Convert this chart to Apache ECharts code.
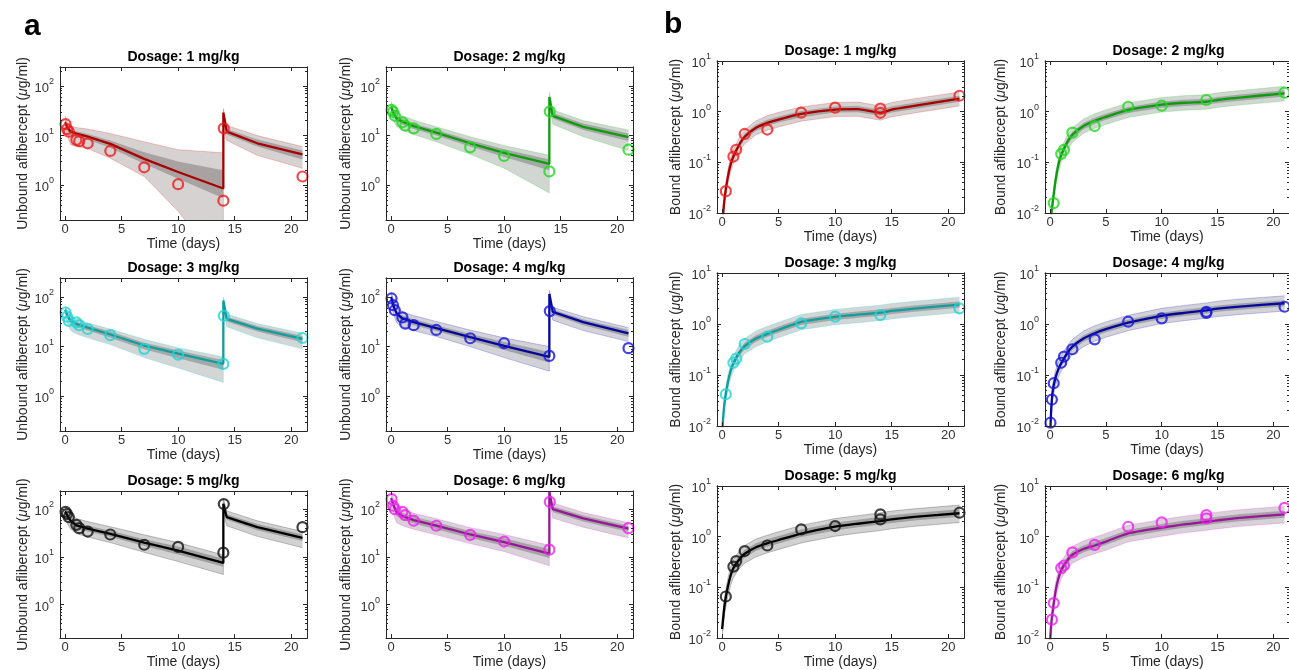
<!DOCTYPE html>
<html><head><meta charset="utf-8">
<script src="https://cdn.jsdelivr.net/npm/echarts@6/dist/echarts.min.js"></script>
<style>html,body{margin:0;padding:0;background:#fff}#c{width:1289px;height:670px}</style>
</head><body><div id="c"></div>
<script>
// ---------- data ----------
const doseTitles = ['Dosage: 1 mg/kg','Dosage: 2 mg/kg','Dosage: 3 mg/kg','Dosage: 4 mg/kg','Dosage: 5 mg/kg','Dosage: 6 mg/kg'];
const xTicks = [0, 5, 10, 15, 20];
const yTicksU = [1, 10, 100];
const yMinorU = [0.3,0.4,0.5,0.6,0.7,0.8,0.9,2,3,4,5,6,7,8,9,20,30,40,50,60,70,80,90,200];
const yTicksB = [0.01, 0.1, 1, 10];
const yMinorB = [0.02,0.03,0.04,0.05,0.06,0.07,0.08,0.09,0.2,0.3,0.4,0.5,0.6,0.7,0.8,0.9,2,3,4,5,6,7,8,9];

// model time grid (days)
const tU = [0, 0.25, 0.5, 1, 2, 4, 7, 10, 14, 14.001, 14.3, 17, 21];
const tB = [0, 0.1, 0.25, 0.5, 0.75, 1, 1.5, 2, 3, 4, 5, 7, 10, 12, 14, 15, 17, 21];
// observation times (days)
const obsTimesU = [0.04, 0.17, 0.33, 1, 1.25, 2, 4, 7, 10, 14, 14.04, 21];
const obsTimesB = [0.04, 0.17, 0.33, 1, 1.25, 2, 4, 7, 10, 14, 14, 21];

// ---- unbound aflibercept (panel a) ----
const uMid1 = [18.5, 14, 12, 11, 9.5, 6.8, 3.4, 1.85, 0.86, 29, 12, 7, 4.2];
const uOutLo1 = [14, 9, 6.5, 6, 5.5, 3.5, 1.5, 0.3, 0.02, 15, 8, 4, 2.2];
const uOutHi1 = [25, 18, 15.5, 14.5, 13.5, 11, 7.5, 5.2, 4.5, 35, 16, 10, 6];
const uInLo1 = [16, 12, 10, 9.3, 8.2, 5.7, 2.7, 1.35, 0.55, 25, 10.5, 6, 3.3];
const uInHi1 = [21, 15.5, 13, 12.2, 10.8, 8.0, 4.6, 3.0, 2.0, 33, 13.5, 8.3, 5.0];
const uObs1 = [17, 13.5, 12, 8.2, 7.7, 7.0, 4.9, 2.3, 1.05, 0.49, 14, 1.5];

const uMid2 = [38, 27, 22, 19, 15.5, 11.5, 7, 4.5, 2.7, 60, 25, 15, 9.3];
const uOutLo2 = [28, 19, 15, 13, 10.5, 7.5, 4.2, 2.2, 0.7, 40, 17, 9.5, 5];
const uOutHi2 = [50, 35, 29, 25, 20.5, 15, 9.5, 6.3, 4.0, 75, 33, 20, 13];
const uInLo2 = [34, 24, 19.5, 16.8, 13.5, 10, 6, 3.7, 2.0, 52, 22, 13, 7.8];
const uInHi2 = [42, 30, 25, 21.5, 17.5, 13, 8.1, 5.3, 3.3, 68, 28.5, 17.5, 11];
const uObs2 = [33, 30, 25, 18.5, 15.8, 14, 10.8, 5.8, 3.9, 1.9, 30.7, 5.2];

const uMid3 = [55, 40, 33, 28.5, 24, 17.5, 10.5, 7.2, 4.5, 85, 36, 23, 14.3];
const uOutLo3 = [40, 27, 21, 18, 15, 11, 6, 3.7, 1.9, 55, 25, 15, 9];
const uOutHi3 = [68, 50, 41, 35.5, 30, 22.5, 14, 9.5, 6.2, 100, 45, 29, 18.5];
const uInLo3 = [50, 36, 29, 25, 21, 15, 8.8, 5.8, 3.4, 75, 32, 20, 12.2];
const uInHi3 = [60, 44, 36.5, 31.5, 27, 20, 12, 8.3, 5.3, 92, 40, 26, 16.3];
const uObs3 = [48.5, 40, 33, 30.6, 27, 22.6, 17, 9, 6.9, 4.5, 41.7, 14.9];

const uMid4 = [100, 62, 46, 37, 31, 23.5, 15.5, 10.3, 6.2, 115, 50, 31, 18.5];
const uOutLo4 = [75, 42, 30, 24.5, 21, 16, 10, 6, 3.2, 75, 34, 21, 12.6];
const uOutHi4 = [125, 85, 62, 50, 42, 32, 21.5, 15, 10, 135, 62, 40, 24];
const uInLo4 = [90, 55, 40, 32, 27, 20.5, 13.2, 8.5, 4.8, 100, 44, 27, 15.8];
const uInHi4 = [112, 70, 52, 42, 35.5, 27, 18, 12.3, 7.8, 125, 56, 35, 21.5];
const uObs4 = [93, 68, 54, 38.7, 29, 27, 21.6, 14.7, 11.7, 6.5, 51.8, 9.3];

const uMid5 = [90, 70, 57, 46, 39, 30.5, 20, 13.5, 7.5, 130, 68, 42, 25];
const uOutLo5 = [65, 48, 38, 31, 26, 20, 12.5, 8, 4.3, 85, 45, 27, 15.6];
const uOutHi5 = [115, 95, 80, 64, 55, 43, 29, 20, 11, 170, 92, 57, 34];
const uInLo5 = [80, 62, 50, 40, 34, 26.5, 17, 11.3, 6.2, 115, 60, 36, 21.5];
const uInHi5 = [100, 80, 66, 53, 45, 35.5, 23.5, 16.5, 9.2, 145, 78, 49, 29.5];
const uObs5 = [88, 79, 68, 47, 40, 34, 29.5, 18, 16.2, 12.3, 128, 42];

const uMid6 = [170, 115, 85, 72, 59, 45, 29.5, 20.5, 11.7, 230, 100, 64, 39];
const uOutLo6 = [120, 75, 52, 45, 38, 29, 19, 13, 6.5, 150, 65, 42, 25];
const uOutHi6 = [230, 165, 118, 100, 82, 63, 41, 29.5, 17.5, 280, 135, 85, 52];
const uInLo6 = [150, 100, 72, 61, 50, 38, 25, 17.2, 9.5, 200, 87, 55, 33.5];
const uInHi6 = [190, 135, 98, 84, 69, 53, 34.5, 24.5, 14.5, 255, 115, 74, 45];
const uObs6 = [162, 118, 100, 88, 75, 57.5, 45, 29, 21, 14.2, 142, 40];

// ---- bound aflibercept (panel b) ----
const bMid1 = [0.004, 0.01, 0.022, 0.05, 0.09, 0.13, 0.22, 0.32, 0.48, 0.6, 0.7, 0.9, 1.1, 1.12, 0.95, 1.1, 1.3, 1.8];
const bOutLo1 = [0.003, 0.0072, 0.016, 0.036, 0.065, 0.094, 0.16, 0.23, 0.35, 0.43, 0.5, 0.65, 0.8, 0.81, 0.68, 0.79, 0.94, 1.3];
const bOutHi1 = [0.0055, 0.014, 0.03, 0.069, 0.124, 0.18, 0.3, 0.44, 0.66, 0.83, 0.97, 1.24, 1.52, 1.55, 1.3, 1.52, 1.8, 2.45];
const bInLo1 = [0.0035, 0.0087, 0.019, 0.0435, 0.078, 0.113, 0.19, 0.28, 0.42, 0.52, 0.61, 0.78, 0.96, 0.97, 0.83, 0.96, 1.13, 1.57];
const bInHi1 = [0.0046, 0.0115, 0.025, 0.0575, 0.103, 0.15, 0.25, 0.37, 0.55, 0.69, 0.8, 1.03, 1.27, 1.29, 1.09, 1.26, 1.5, 2.07];
const bObs1 = [null, null, 0.027, 0.13, 0.177, 0.363, 0.444, 0.955, 1.2, 1.15, 0.95, 2.06];

const bMid2 = [0.006, 0.009, 0.017, 0.045, 0.09, 0.14, 0.24, 0.35, 0.52, 0.66, 0.79, 1.08, 1.38, 1.5, 1.57, 1.7, 1.9, 2.3];
const bOutLo2 = [0.0043, 0.0065, 0.012, 0.032, 0.065, 0.1, 0.17, 0.25, 0.37, 0.47, 0.56, 0.77, 0.98, 1.07, 1.12, 1.21, 1.35, 1.63];
const bOutHi2 = [0.0083, 0.0124, 0.023, 0.062, 0.124, 0.19, 0.33, 0.48, 0.72, 0.91, 1.09, 1.49, 1.9, 2.07, 2.17, 2.35, 2.62, 3.17];
const bInLo2 = [0.0052, 0.0078, 0.015, 0.039, 0.078, 0.12, 0.21, 0.3, 0.45, 0.57, 0.69, 0.94, 1.2, 1.3, 1.37, 1.48, 1.65, 2.0];
const bInHi2 = [0.0069, 0.0104, 0.0195, 0.052, 0.104, 0.16, 0.28, 0.4, 0.6, 0.76, 0.91, 1.24, 1.59, 1.72, 1.8, 1.95, 2.18, 2.65];
const bObs2 = [null, null, 0.0157, 0.147, 0.176, 0.386, 0.52, 1.25, 1.31, 1.7, null, 2.37];

const bMid3 = [0.006, 0.015, 0.033, 0.07, 0.12, 0.17, 0.27, 0.37, 0.52, 0.64, 0.77, 1.1, 1.38, 1.52, 1.67, 1.8, 2.0, 2.4];
const bOutLo3 = [0.0042, 0.0105, 0.023, 0.049, 0.084, 0.12, 0.19, 0.26, 0.36, 0.45, 0.54, 0.77, 0.97, 1.06, 1.17, 1.26, 1.4, 1.68];
const bOutHi3 = [0.0084, 0.021, 0.046, 0.098, 0.168, 0.24, 0.38, 0.52, 0.73, 0.9, 1.08, 1.54, 1.93, 2.13, 2.34, 2.52, 2.8, 3.36];
const bInLo3 = [0.0052, 0.013, 0.029, 0.061, 0.104, 0.148, 0.235, 0.32, 0.45, 0.56, 0.67, 0.96, 1.2, 1.32, 1.45, 1.57, 1.74, 2.09];
const bInHi3 = [0.0069, 0.017, 0.038, 0.08, 0.138, 0.196, 0.31, 0.43, 0.6, 0.74, 0.89, 1.27, 1.59, 1.75, 1.92, 2.07, 2.3, 2.76];
const bObs3 = [null, null, 0.042, 0.174, 0.21, 0.405, 0.565, 1.03, 1.39, 1.5, null, 2.03];

const bMid4 = [0.005, 0.02, 0.05, 0.09, 0.13, 0.17, 0.26, 0.36, 0.52, 0.66, 0.79, 1.06, 1.45, 1.65, 1.85, 2.0, 2.2, 2.55];
const bOutLo4 = [0.0035, 0.014, 0.035, 0.063, 0.091, 0.12, 0.18, 0.25, 0.36, 0.46, 0.55, 0.74, 1.02, 1.16, 1.3, 1.4, 1.54, 1.79];
const bOutHi4 = [0.007, 0.028, 0.07, 0.126, 0.18, 0.24, 0.36, 0.5, 0.73, 0.92, 1.1, 1.48, 2.03, 2.31, 2.59, 2.8, 3.08, 3.57];
const bInLo4 = [0.0043, 0.017, 0.043, 0.078, 0.113, 0.148, 0.226, 0.31, 0.45, 0.57, 0.69, 0.92, 1.26, 1.44, 1.61, 1.74, 1.91, 2.22];
const bInHi4 = [0.0058, 0.023, 0.058, 0.104, 0.15, 0.196, 0.3, 0.41, 0.6, 0.76, 0.91, 1.22, 1.67, 1.9, 2.13, 2.3, 2.53, 2.93];
const bObs4 = [0.0116, 0.033, 0.069, 0.174, 0.23, 0.32, 0.5, 1.11, 1.29, 1.74, 1.65, 2.18];

const bMid5 = [0.015, 0.025, 0.05, 0.1, 0.17, 0.24, 0.35, 0.46, 0.62, 0.74, 0.86, 1.15, 1.57, 1.8, 2.03, 2.2, 2.45, 2.9];
const bOutLo5 = [0.0098, 0.016, 0.033, 0.065, 0.11, 0.156, 0.23, 0.3, 0.4, 0.48, 0.56, 0.75, 1.02, 1.17, 1.32, 1.43, 1.6, 1.9];
const bOutHi5 = [0.022, 0.036, 0.073, 0.145, 0.25, 0.35, 0.51, 0.67, 0.9, 1.07, 1.25, 1.67, 2.28, 2.6, 2.95, 3.2, 3.55, 4.2];
const bInLo5 = [0.0125, 0.021, 0.042, 0.085, 0.145, 0.2, 0.3, 0.39, 0.53, 0.63, 0.73, 0.98, 1.33, 1.53, 1.73, 1.87, 2.08, 2.46];
const bInHi5 = [0.018, 0.03, 0.06, 0.12, 0.2, 0.29, 0.42, 0.55, 0.74, 0.89, 1.03, 1.38, 1.88, 2.16, 2.44, 2.64, 2.94, 3.48];
const bObs5 = [null, null, 0.066, 0.257, 0.33, 0.52, 0.67, 1.39, 1.62, 2.75, 2.19, 2.97];

const bMid6 = [0.008, 0.018, 0.035, 0.085, 0.15, 0.22, 0.33, 0.44, 0.57, 0.67, 0.8, 1.16, 1.5, 1.75, 1.97, 2.1, 2.35, 2.75];
const bOutLo6 = [0.0054, 0.012, 0.024, 0.058, 0.1, 0.15, 0.22, 0.3, 0.39, 0.46, 0.54, 0.79, 1.02, 1.19, 1.34, 1.43, 1.6, 1.87];
const bOutHi6 = [0.0116, 0.026, 0.05, 0.123, 0.22, 0.32, 0.48, 0.64, 0.83, 0.97, 1.16, 1.68, 2.18, 2.54, 2.86, 3.05, 3.4, 4.0];
const bInLo6 = [0.0068, 0.015, 0.03, 0.073, 0.128, 0.19, 0.28, 0.38, 0.49, 0.58, 0.69, 1.0, 1.29, 1.5, 1.7, 1.81, 2.02, 2.37];
const bInHi6 = [0.0094, 0.021, 0.041, 0.1, 0.176, 0.26, 0.39, 0.52, 0.67, 0.79, 0.94, 1.37, 1.77, 2.07, 2.32, 2.48, 2.77, 3.25];
const bObs6 = [null, 0.023, 0.049, 0.24, 0.27, 0.49, 0.69, 1.57, 1.91, 2.66, 2.29, 3.7];

// ---------- styling / layout ----------
const FONT = '"Liberation Sans", Arial, Helvetica, sans-serif';
const markColors = ['#ee1c1c', '#22d622', '#1ed6d6', '#1414dc', '#111111', '#ee20ee'];
const lineColors = ['#a80000', '#109a10', '#129c9c', '#06069a', '#000000', '#961896'];
const AX = '#262626';

const unbound = [
  [uMid1,uOutLo1,uOutHi1,uInLo1,uInHi1,uObs1],[uMid2,uOutLo2,uOutHi2,uInLo2,uInHi2,uObs2],
  [uMid3,uOutLo3,uOutHi3,uInLo3,uInHi3,uObs3],[uMid4,uOutLo4,uOutHi4,uInLo4,uInHi4,uObs4],
  [uMid5,uOutLo5,uOutHi5,uInLo5,uInHi5,uObs5],[uMid6,uOutLo6,uOutHi6,uInLo6,uInHi6,uObs6]];
const bound = [
  [bMid1,bOutLo1,bOutHi1,bInLo1,bInHi1,bObs1],[bMid2,bOutLo2,bOutHi2,bInLo2,bInHi2,bObs2],
  [bMid3,bOutLo3,bOutHi3,bInLo3,bInHi3,bObs3],[bMid4,bOutLo4,bOutHi4,bInLo4,bInHi4,bObs4],
  [bMid5,bOutLo5,bOutHi5,bInLo5,bInHi5,bObs5],[bMid6,bOutLo6,bOutHi6,bInLo6,bInHi6,bObs6]];

const aLeft = [60, 386], bLeft = [717, 1045], W = 247;
const aTop = [67, 278, 491], aH = [153, 153, 150];
const bTop = [61, 273, 486], bH = [152, 153, 152];
const nameGapA = [30, 33], nameGapB = [34, 37];

function rgb(hex){const c=parseInt(hex.slice(1),16);return [(c>>16)&255,(c>>8)&255,c&255];}
function tint(hex, w, g, a){const c=rgb(hex);return 'rgba('+c.map(v=>Math.round(g*(1-w)+v*w)).join(',')+','+a+')';}

// Sutherland-Hodgman clipping of a polygon (pixel coords) to the plot rectangle
function clipPoly(pts, x0, y0, x1, y1){
  const planes = [
    [p=>p[0]>=x0, (a,b)=>{const t=(x0-a[0])/(b[0]-a[0]);return [x0,a[1]+t*(b[1]-a[1])];}],
    [p=>p[0]<=x1, (a,b)=>{const t=(x1-a[0])/(b[0]-a[0]);return [x1,a[1]+t*(b[1]-a[1])];}],
    [p=>p[1]>=y0, (a,b)=>{const t=(y0-a[1])/(b[1]-a[1]);return [a[0]+t*(b[0]-a[0]),y0];}],
    [p=>p[1]<=y1, (a,b)=>{const t=(y1-a[1])/(b[1]-a[1]);return [a[0]+t*(b[0]-a[0]),y1];}]
  ];
  for (const [inside, cut] of planes){
    const out=[]; const n=pts.length; if(!n) return out;
    for (let i=0;i<n;i++){
      const cur=pts[i], prev=pts[(i+n-1)%n];
      if (inside(cur)){ if(!inside(prev)) out.push(cut(prev,cur)); out.push(cur); }
      else if (inside(prev)) out.push(cut(prev,cur));
    }
    pts=out;
  }
  return pts;
}
function bandRenderer(fill){
  return function(params, api){
    if (params.dataIndexInside !== 0) return null;
    const n = params.dataInsideLength, up=[], dn=[];
    for (let i=0;i<n;i++){
      const t=api.value(0,i);
      up.push(api.coord([t, api.value(2,i)]));
      dn.push(api.coord([t, api.value(1,i)]));
    }
    const cs = params.coordSys;
    const pts = clipPoly(up.concat(dn.reverse()), cs.x, cs.y, cs.x+cs.width, cs.y+cs.height);
    return {type:'polygon', silent:true, shape:{points:pts}, style:{fill:fill, stroke:null}};
  };
}

const grids=[], xAxes=[], yAxes=[], series=[], graphics=[];
const supRich = {
  b:{fontSize:13,color:'#333',fontFamily:FONT,verticalAlign:'bottom',lineHeight:18},
  s:{fontSize:9,color:'#333',fontFamily:FONT,verticalAlign:'top',lineHeight:10}
};
function logFmt(v){const e=Math.round(Math.log10(v));return '{b|10}{s|'+e+'}';}

function addPanel(g, left, top, h, yMin, yMax, yTicks, yMinor, yName, nameGap, tMod, arrs, tObs, k, smooth){
  const [mid,oLo,oHi,iLo,iHi,obs] = arrs;
  grids.push({left:left, top:top, width:W, height:h});
  const xi = xAxes.length, yi = yAxes.length;
  const xBase = {gridIndex:g, type:'value', min:-0.45, max:21.4, z:10, splitLine:{show:false},
    axisLine:{show:true,onZero:false,lineStyle:{color:AX,width:1}}};
  xAxes.push(Object.assign({}, xBase, {position:'bottom',
    axisTick:{show:true,inside:true,length:4,customValues:xTicks,lineStyle:{color:AX}},
    axisLabel:{show:true,customValues:xTicks,margin:3,fontSize:13,color:'#333',fontFamily:FONT},
    name:'Time (days)', nameLocation:'middle', nameGap:15,
    nameTextStyle:{fontSize:14,color:AX,fontFamily:FONT}}));
  xAxes.push(Object.assign({}, xBase, {position:'top',
    axisTick:{show:true,inside:true,length:4,customValues:xTicks,lineStyle:{color:AX}},
    axisLabel:{show:false}}));
  const yBase = {gridIndex:g, type:'log', logBase:10, min:yMin, max:yMax, z:10, splitLine:{show:false},
    axisLine:{show:true,onZero:false,lineStyle:{color:AX,width:1}}};
  yAxes.push(Object.assign({}, yBase, {position:'left',
    axisTick:{show:true,inside:true,length:4,customValues:yTicks,lineStyle:{color:AX}},
    axisLabel:{show:true,customValues:yTicks,margin:6,formatter:logFmt,rich:supRich},
    name:yName, nameLocation:'middle', nameGap:nameGap, nameRotate:90,
    nameTextStyle:{fontSize:14,color:AX,fontFamily:FONT,
      rich:{i:{fontStyle:'italic',fontSize:14,color:AX,fontFamily:FONT}}}}));
  yAxes.push(Object.assign({}, yBase, {position:'left',
    axisTick:{show:true,inside:true,length:2,customValues:yMinor,lineStyle:{color:AX}},
    axisLabel:{show:false}}));
  yAxes.push(Object.assign({}, yBase, {position:'right',
    axisTick:{show:true,inside:true,length:4,customValues:yTicks,lineStyle:{color:AX}},
    axisLabel:{show:false}}));
  yAxes.push(Object.assign({}, yBase, {position:'right',
    axisTick:{show:true,inside:true,length:2,customValues:yMinor,lineStyle:{color:AX}},
    axisLabel:{show:false}}));

  const mc = markColors[k], lc = lineColors[k];
  const outerFill = tint(mc, 0.08, 125, 0.33);
  const innerFill = tint(mc, 0.06, 80, 0.36);
  const edge = tint(mc, 1, 0, 0.35);
  const common = {xAxisIndex:xi, yAxisIndex:yi, silent:true, animation:false};
  series.push(Object.assign({type:'custom', z:1, renderItem:bandRenderer(outerFill),
    encode:{x:0, y:[1,2]}, data:tMod.map((t,j)=>[t,oLo[j],oHi[j]])}, common));
  series.push(Object.assign({type:'custom', z:2, renderItem:bandRenderer(innerFill),
    encode:{x:0, y:[1,2]}, data:tMod.map((t,j)=>[t,iLo[j],iHi[j]])}, common));
  series.push(Object.assign({type:'line', z:2, symbol:'none',
    data:tMod.map((t,j)=>[t,oLo[j]]), lineStyle:{color:edge,width:0.7}}, common));
  series.push(Object.assign({type:'line', z:2, symbol:'none',
    data:tMod.map((t,j)=>[t,oHi[j]]), lineStyle:{color:edge,width:0.7}}, common));
  series.push(Object.assign({type:'line', z:3, symbol:'none', smooth:smooth,
    data:tMod.map((t,j)=>[t,mid[j]]), lineStyle:{color:lc,width:2.3}}, common));
  series.push(Object.assign({type:'scatter', z:4, symbol:'circle', symbolSize:10,
    data:tObs.map((t,j)=>[t,obs[j]]).filter(d=>d[1]!=null),
    itemStyle:{color:'rgba(0,0,0,0)',borderColor:mc,borderWidth:2.2}}, common));

  graphics.push({type:'text', x:left+W/2, y:top-10, z:20,
    style:{text:doseTitles[k], font:'bold 14px '+FONT, fill:'#000', textAlign:'center', textVerticalAlign:'middle'}});
}

let g = 0;
for (let k=0;k<6;k++){
  const col=k%2,row=Math.floor(k/2);
  addPanel(g++, aLeft[col], aTop[row], aH[row], 0.2, 240, yTicksU, yMinorU,
    'Unbound aflibercept ({i|μ}g/ml)', nameGapA[col], tU, unbound[k], obsTimesU, k, false);
}
for (let k=0;k<6;k++){
  const col=k%2,row=Math.floor(k/2);
  addPanel(g++, bLeft[col], bTop[row], bH[row], 0.01, 10, yTicksB, yMinorB,
    'Bound aflibercept ({i|μ}g/ml)', nameGapB[col], tB, bound[k], obsTimesB, k, 0.2);
}
graphics.push({type:'text', x:24, y:27, style:{text:'a', font:'bold 30px '+FONT, fill:'#000', textVerticalAlign:'middle'}});
graphics.push({type:'text', x:664, y:25, style:{text:'b', font:'bold 30px '+FONT, fill:'#000', textVerticalAlign:'middle'}});

const chart = echarts.init(document.getElementById('c'), null, {renderer:'canvas'});
chart.setOption({
  animation:false, backgroundColor:'#fff',
  textStyle:{fontFamily:FONT},
  grid:grids, xAxis:xAxes, yAxis:yAxes, series:series, graphic:graphics
});
</script></body></html>
